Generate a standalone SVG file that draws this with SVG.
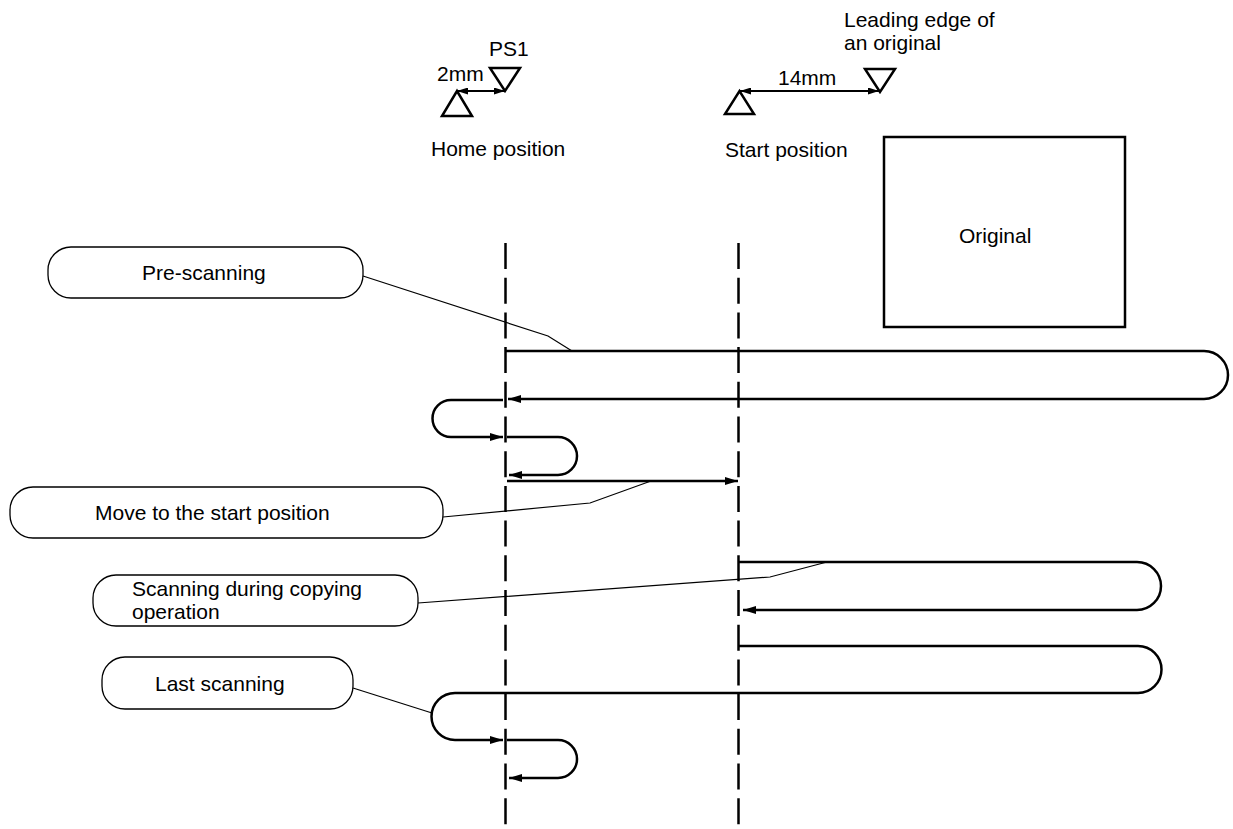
<svg xmlns="http://www.w3.org/2000/svg" width="1233" height="829" viewBox="0 0 1233 829">
<style>
text{font-family:"Liberation Sans",Arial,sans-serif;font-size:21px;fill:#000}
.box{fill:#fff;stroke:#000;stroke-width:1.3}
.path{fill:none;stroke:#000;stroke-width:2.5}
.dash{fill:none;stroke:#000;stroke-width:2.5;stroke-dasharray:26 8.7}
.lead{fill:none;stroke:#000;stroke-width:1.2}
.tri{fill:none;stroke:#000;stroke-width:2.5;stroke-linejoin:miter}
.dim{fill:none;stroke:#000;stroke-width:2}
.ah{fill:#000;stroke:none}
</style>
<defs>
<marker id="arr" viewBox="0 0 13 8" refX="13" refY="4" markerWidth="13" markerHeight="8" markerUnits="userSpaceOnUse" orient="auto-start-reverse"><path d="M0,0 L13,4 L0,8 Z" fill="#000"/></marker>
<marker id="sarr" viewBox="0 0 11 7" refX="11" refY="3.5" markerWidth="11" markerHeight="7" markerUnits="userSpaceOnUse" orient="auto-start-reverse"><path d="M0,0 L11,3.5 L0,7 Z" fill="#000"/></marker>
</defs>
<rect width="1233" height="829" fill="#fff"/>

<g id="home-position">
<polygon class="tri" points="442,116 472,116 457,91"/>
<polygon class="tri" points="490,68 520,68 505,91"/>
<line class="dim" x1="457" y1="91" x2="505" y2="91" marker-start="url(#sarr)" marker-end="url(#sarr)"/>
<text x="489" y="56">PS1</text>
<text x="437" y="81">2mm</text>
<text x="431" y="156">Home position</text>
</g>

<g id="start-position">
<polygon class="tri" points="725,114 754,114 739.5,91"/>
<polygon class="tri" points="865,69 895,69 880,92"/>
<line class="dim" x1="740" y1="91" x2="879" y2="91" marker-start="url(#sarr)" marker-end="url(#sarr)"/>
<text x="778" y="85">14mm</text>
<text x="725" y="157">Start position</text>
<text x="844" y="27">Leading edge of</text>
<text x="844" y="50">an original</text>
</g>

<g id="original">
<rect x="884" y="137" width="241" height="190" fill="#fff" stroke="#000" stroke-width="2.5"/>
<text x="959" y="243">Original</text>
</g>

<g id="guides">
<line class="dash" x1="505.5" y1="243" x2="505.5" y2="826"/>
<line class="dash" x1="738.5" y1="243" x2="738.5" y2="826"/>
</g>

<g id="connectors">
<path class="path" d="M505.5,351 H1204 A24,24 0 0 1 1204,399 H508" marker-end="url(#arr)"/>
<path class="path" d="M503,400 H451 A18.5,18.5 0 0 0 451,437 H503" marker-end="url(#arr)"/>
<path class="path" d="M507,437 H558 A19,19 0 0 1 558,475 H509" marker-end="url(#arr)"/>
<path class="path" d="M507,481 H738" marker-end="url(#arr)"/>
<path class="path" d="M739,562 H1137 A24,24 0 0 1 1137,610 H743" marker-end="url(#arr)"/>
<path class="path" d="M739,646 H1138 A23.5,23.5 0 0 1 1138,693 H455 A23.5,23.5 0 0 0 455,740 H503" marker-end="url(#arr)"/>
<path class="path" d="M507,740 H558 A19,19 0 0 1 558,778 H509" marker-end="url(#arr)"/>
<polyline class="lead" points="363,276 548,336 572,351"/>
<polyline class="lead" points="443,517 590,503 651,481"/>
<polyline class="lead" points="418,603 770,577 827,562"/>
<polyline class="lead" points="353,688 432,713"/>
</g>

<g id="pre-scanning">
<rect class="box" x="48" y="247" width="315" height="51" rx="23"/>
<text x="142" y="280">Pre-scanning</text>
</g>

<g id="move-to-start">
<rect class="box" x="10" y="487" width="433" height="51" rx="23"/>
<text x="95" y="520">Move to the start position</text>
</g>

<g id="scanning-copying">
<rect class="box" x="93" y="575" width="325" height="51" rx="23"/>
<text x="132" y="596">Scanning during copying</text>
<text x="132" y="619">operation</text>
</g>

<g id="last-scanning">
<rect class="box" x="102" y="657" width="251" height="52" rx="23"/>
<text x="155" y="691">Last scanning</text>
</g>
</svg>
